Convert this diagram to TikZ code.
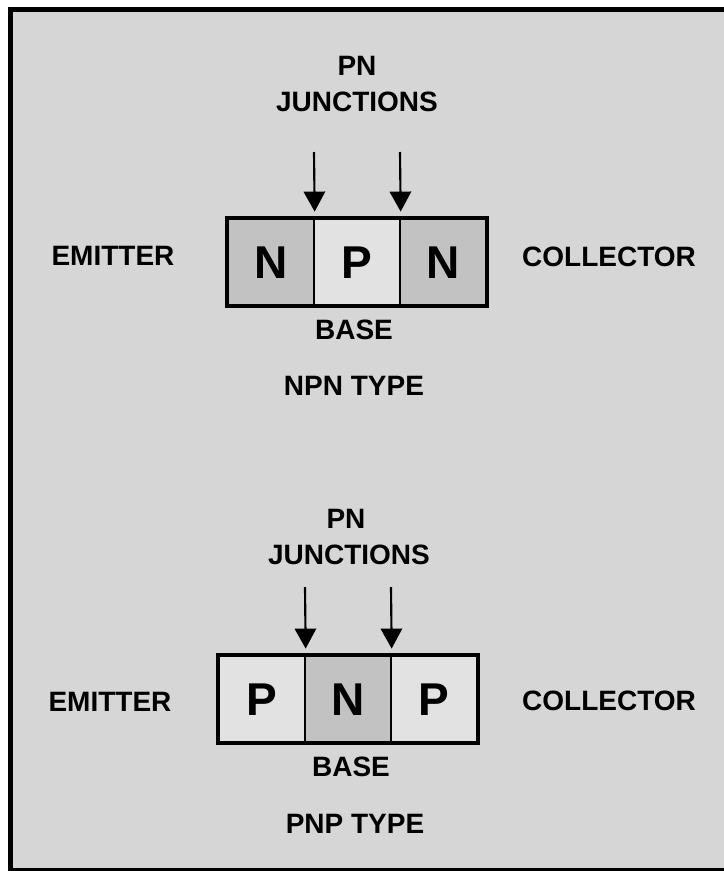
\documentclass[tikz,border=0pt]{standalone}
\usepackage{fontspec}
\setmainfont{Liberation Sans}
\usetikzlibrary{arrows.meta}
\definecolor{panelgray}{HTML}{D6D6D6}
\definecolor{ntype}{HTML}{C2C2C2}
\definecolor{ptype}{HTML}{E2E2E2}

\begin{document}
\begin{tikzpicture}[x=0.75pt,y=-0.75pt]
  \tikzset{txt/.style = {font=\bfseries\fontsize{21}{21}\selectfont, inner sep=0pt, text height=15pt, text depth=0pt}}
  \tikzset{cell/.style = {draw, line width=1.1pt, minimum width=64.5pt, minimum height=64.5pt, inner sep=0pt,
      font=\bfseries\fontsize{34.5}{34.5}\selectfont, text height=24.7pt, text depth=0pt}}
  \tikzset{ncell/.style = {cell, fill=ntype}}
  \tikzset{pcell/.style = {cell, fill=ptype}}
  \tikzset{junc/.style = {line width=1.6pt, -{Triangle[width=16pt,length=15pt]}, shorten >=5pt}}

  \useasboundingbox (0,0) rectangle (724,871);
  \clip (0,0) rectangle (724,871);
  \fill[white] (0,0) rectangle (724,871);
  \draw[fill=panelgray, line width=3.75pt] (10.5,9) rectangle (740,870.5);

	% NPN
	\node[txt] (PN1) at (357,65) {PN};
	\node[txt] (J1) at (357,101) {JUNCTIONS};
	\node[ncell] (E1) at (271,262) {N};
	\node[pcell] (B1) at (357,262) {P};
	\node[ncell] (C1) at (443,262) {N};
	\draw[line width=3pt] (E1.north west) rectangle (C1.south east);
	\node[txt] (EM1) at (113,255) {EMITTER};
	\node[txt] (CO1) at (609,256) {COLLECTOR};
	\node[txt] (BA1) at (354,329) {BASE};
	\node[txt] (T1) at (354,385) {NPN TYPE};
	\coordinate (a1) at (314,152);
	\coordinate (a2) at (400,152);

	% PNP
	\node[txt] (PN2) at (346,518) {PN};
	\node[txt] (J2) at (349,554) {JUNCTIONS};
	\node[pcell] (E2) at (262,699) {P};
	\node[ncell] (B2) at (348,699) {N};
	\node[pcell] (C2) at (434,699) {P};
	\draw[line width=3pt] (E2.north west) rectangle (C2.south east);
	\node[txt] (EM2) at (110,701) {EMITTER};
	\node[txt] (CO2) at (609,700) {COLLECTOR};
	\node[txt] (BA2) at (351,766) {BASE};
	\node[txt] (T2) at (355,823) {PNP TYPE};
	\coordinate (a3) at (305,587);
	\coordinate (a4) at (391,587);

    \foreach \from/\to in {a1/E1.north east,a2/B1.north east,a3/E2.north east,a4/B2.north east}
    \draw[junc] (\from) -- (\to);

\end{tikzpicture}
\end{document}
